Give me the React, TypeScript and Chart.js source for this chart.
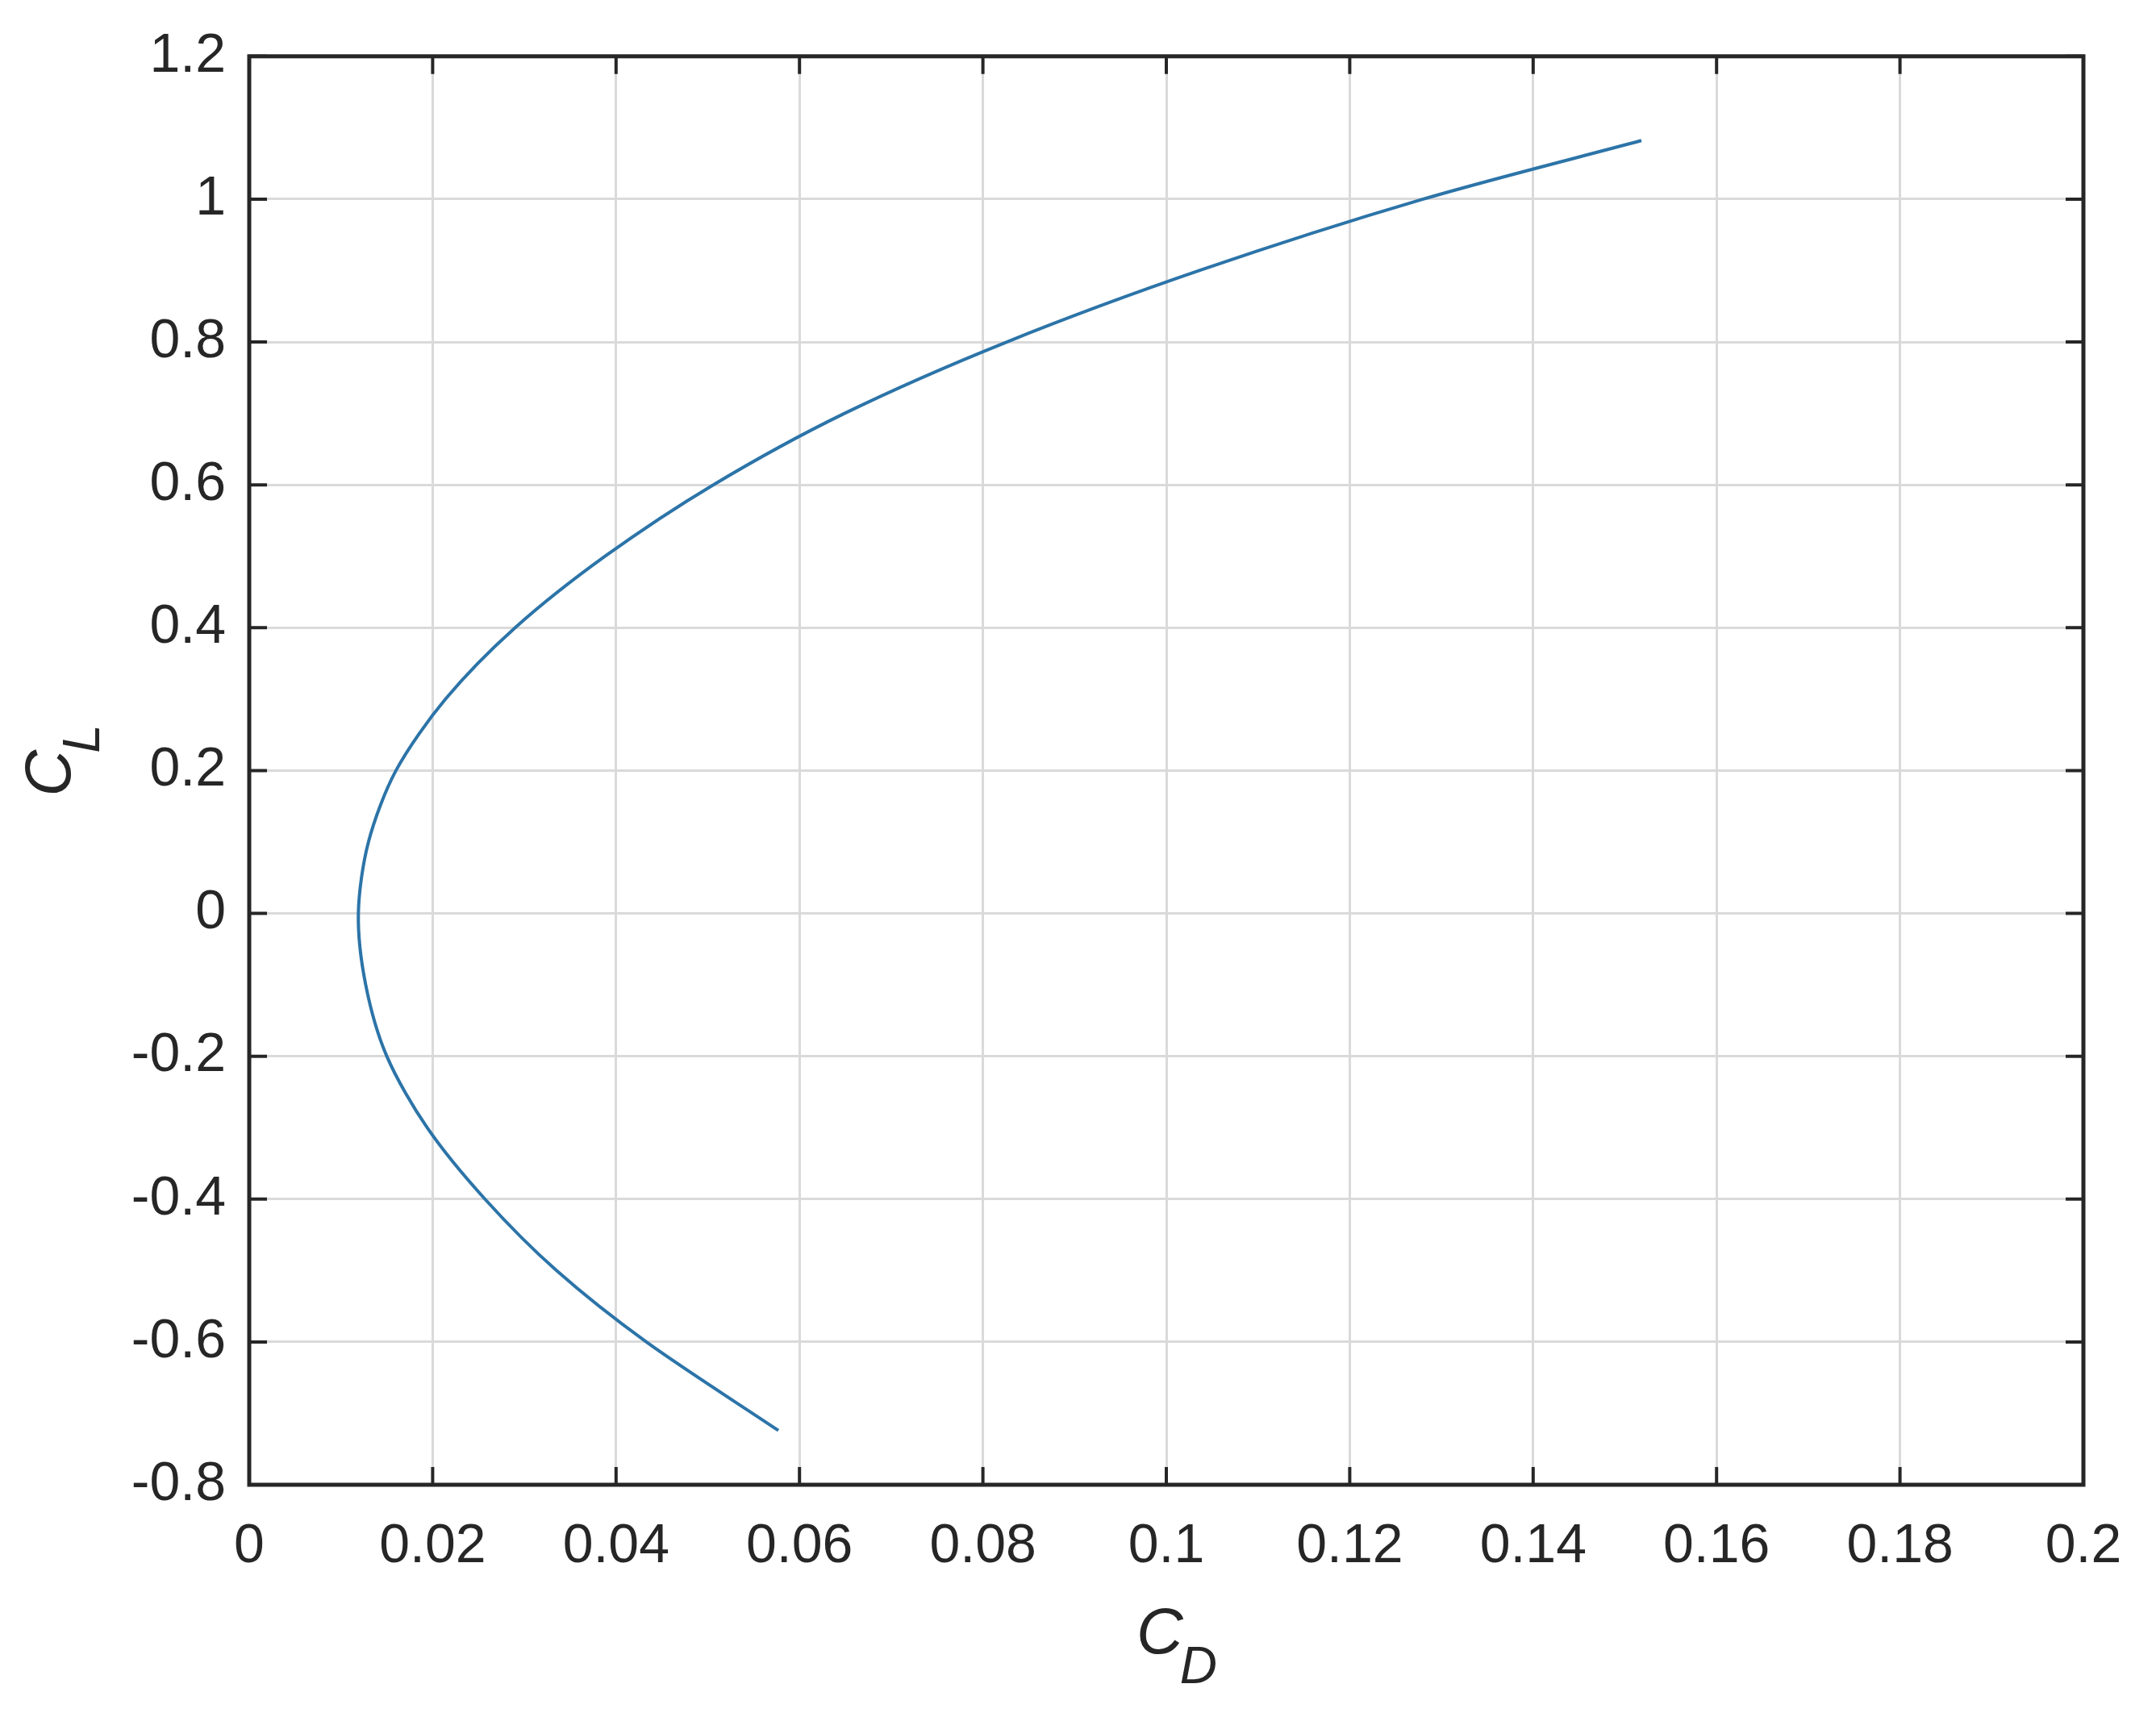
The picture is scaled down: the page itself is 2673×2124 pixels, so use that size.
import React, { useEffect, useRef } from 'react';
import { Chart, registerables } from 'chart.js';

Chart.register(...registerables);

// Drag polar: C_D (x) vs C_L (y), ordered along the curve
const cdValues = [
  0.0577, 0.0433, 0.0335, 0.0257, 0.0194, 0.0150, 0.0127,
  0.0119, 0.0130, 0.0160, 0.0214, 0.0290, 0.0388, 0.0506, 0.0649,
  0.0826, 0.1036, 0.1280, 0.1518,
];
const clValues = [
  -0.724, -0.6, -0.5, -0.4, -0.3, -0.2, -0.1,
  0.0, 0.1, 0.2, 0.3, 0.4, 0.5, 0.6, 0.7,
  0.8, 0.9, 1.0, 1.082,
];

const xTickValues = [0, 0.02, 0.04, 0.06, 0.08, 0.1, 0.12, 0.14, 0.16, 0.18, 0.2];
const xTickLabels = ['0', '0.02', '0.04', '0.06', '0.08', '0.1', '0.12', '0.14', '0.16', '0.18', '0.2'];
const yTickValues = [-0.8, -0.6, -0.4, -0.2, 0, 0.2, 0.4, 0.6, 0.8, 1, 1.2];
const yTickLabels = ['-0.8', '-0.6', '-0.4', '-0.2', '0', '0.2', '0.4', '0.6', '0.8', '1', '1.2'];

const xTitleMain = 'C';
const xTitleSub = 'D';
const yTitleMain = 'C';
const yTitleSub = 'L';

const FONT = '"Liberation Sans", Arial, Helvetica, sans-serif';
const TEXT = '#262626';

const framePlugin = {
  id: 'matlabFrame',
  afterDraw(chart: any) {
    const { ctx, chartArea: a, scales } = chart;
    ctx.save();
    ctx.strokeStyle = TEXT;
    ctx.lineCap = 'butt';
    // inward tick marks on all four sides
    const tl = 22;
    ctx.lineWidth = 4;
    ctx.beginPath();
    for (const v of xTickValues) {
      const px = scales.x.getPixelForValue(v);
      ctx.moveTo(px, a.bottom);
      ctx.lineTo(px, a.bottom - tl);
      ctx.moveTo(px, a.top);
      ctx.lineTo(px, a.top + tl);
    }
    for (const v of yTickValues) {
      const py = scales.y.getPixelForValue(v);
      ctx.moveTo(a.left, py);
      ctx.lineTo(a.left + tl, py);
      ctx.moveTo(a.right, py);
      ctx.lineTo(a.right - tl, py);
    }
    ctx.stroke();
    // box
    ctx.lineWidth = 5;
    ctx.strokeRect(a.left, a.top, a.right - a.left, a.bottom - a.top);

    // axis titles with subscripts
    ctx.fillStyle = TEXT;
    ctx.textBaseline = 'alphabetic';
    ctx.textAlign = 'left';
    const mainFont = `italic 80px ${FONT}`;
    const subFont = `italic 64px ${FONT}`;

    // x title
    const cx = (a.left + a.right) / 2;
    ctx.font = mainFont;
    const wC = ctx.measureText(xTitleMain).width;
    const xStart = cx - 37;
    const xBase = a.bottom + 209;
    ctx.fillText(xTitleMain, xStart, xBase);
    ctx.font = subFont;
    ctx.fillText(xTitleSub, xStart + wC - 4, xBase + 37);

    // y title (rotated)
    const cy = (a.top + a.bottom) / 2;
    ctx.save();
    ctx.translate(a.left - 222, cy + 32);
    ctx.rotate(-Math.PI / 2);
    ctx.font = mainFont;
    const wCy = ctx.measureText(yTitleMain).width;
    ctx.fillText(yTitleMain, 0, 0);
    ctx.font = subFont;
    ctx.fillText(yTitleSub, wCy - 4, 36);
    ctx.restore();

    ctx.restore();
  },
};

export default function App() {
  const canvasRef = useRef<HTMLCanvasElement | null>(null);

  useEffect(() => {
    const canvas = canvasRef.current;
    if (!canvas) return;
    const points = cdValues.map((x, i) => ({ x, y: clValues[i] }));
    const chart = new Chart(canvas, {
      type: 'scatter',
      data: {
        datasets: [
          {
            data: points,
            showLine: true,
            borderColor: '#2c74a8',
            borderWidth: 4,
            pointRadius: 0,
            pointHoverRadius: 0,
            tension: 0.3,
            fill: false,
          },
        ],
      },
      options: {
        animation: false,
        responsive: false,
        devicePixelRatio: 1,
        layout: { padding: { left: 0, right: 90, top: 63, bottom: 133 } },
        plugins: {
          legend: { display: false },
          tooltip: { enabled: false },
          title: { display: false },
        },
        scales: {
          x: {
            type: 'linear',
            min: 0,
            max: 0.2,
            afterBuildTicks: (scale: any) => {
              scale.ticks = xTickValues.map((value) => ({ value }));
            },
            afterFit: (scale: any) => {
              scale.height = 150;
            },
            ticks: {
              autoSkip: false,
              maxRotation: 0,
              padding: 36,
              color: TEXT,
              font: { family: FONT, size: 68 },
              callback: (value: any) => {
                const i = xTickValues.findIndex((t) => Math.abs(t - Number(value)) < 1e-9);
                return i >= 0 ? xTickLabels[i] : '';
              },
            },
            grid: {
              color: '#dadada',
              lineWidth: 3,
              drawTicks: false,
            },
            border: { display: false },
          },
          y: {
            type: 'linear',
            min: -0.8,
            max: 1.2,
            afterBuildTicks: (scale: any) => {
              scale.ticks = yTickValues.map((value) => ({ value }));
            },
            afterFit: (scale: any) => {
              scale.width = 309;
            },
            ticks: {
              autoSkip: false,
              padding: 29,
              color: TEXT,
              font: { family: FONT, size: 68 },
              callback: (value: any) => {
                const i = yTickValues.findIndex((t) => Math.abs(t - Number(value)) < 1e-9);
                return i >= 0 ? yTickLabels[i] : '';
              },
            },
            grid: {
              color: '#dadada',
              lineWidth: 3,
              drawTicks: false,
            },
            border: { display: false },
          },
        },
      },
      plugins: [framePlugin],
    });
    return () => chart.destroy();
  }, []);

  return (
    <div
      style={{
        position: 'absolute',
        left: 0,
        top: 0,
        width: 2673,
        height: 2124,
        background: '#ffffff',
      }}
    >
      <canvas ref={canvasRef} width={2673} height={2124} style={{ display: 'block' }} />
    </div>
  );
}
